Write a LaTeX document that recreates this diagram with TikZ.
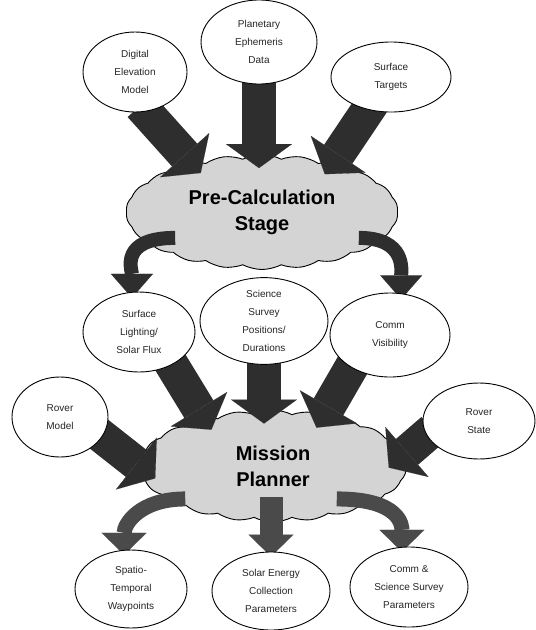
\documentclass[tikz,border=0pt]{standalone}
\usepackage{fontspec}
\setmainfont{Liberation Sans}
\usetikzlibrary{arrows.meta,positioning,shapes.geometric,shapes.symbols}
\definecolor{arrowdark}{HTML}{2E2E2E}
\definecolor{arrowmid}{HTML}{4A4A4A}
\definecolor{cloudfill}{HTML}{D4D4D4}
\pgfdeclarelayer{bg}
\pgfdeclarelayer{mid}
\pgfsetlayers{bg,mid,main}

\begin{document}
\begin{tikzpicture}[
    x=1pt,y=1pt,
    ell/.style={ellipse,draw,fill=white,line width=0.9pt,inner sep=0pt,align=center,
      font=\fontsize{10}{18}\selectfont,text=black!85},
    blob/.style={cloud,cloud puffs=22,cloud puff arc=55,cloud ignores aspect,draw,
      line width=0.9pt,fill=cloudfill,inner sep=0pt,align=center,
      font=\fontsize{20}{26}\selectfont\bfseries},
    fat/.style={draw=arrowdark,line width=34pt,-{Triangle[width=66pt,length=24pt,line width=0.1pt]}},
    thin/.style={draw=arrowdark,line width=14pt,-{Triangle[width=42pt,length=24pt,line width=0.1pt]}},
    low/.style={draw=arrowmid,line width=15pt,-{Triangle[width=45pt,length=22pt,line width=0.1pt]}}
  ]
  \useasboundingbox (0,0) rectangle (536,-630);

  % input data
  \node[ell,minimum width=104pt,minimum height=80pt] (dem) at (135,-72) {Digital\\Elevation\\Model};
  \node[ell,minimum width=116pt,minimum height=84pt] (ephem) at (259,-42) {Planetary\\Ephemeris\\Data};
  \node[ell,minimum width=120pt,minimum height=70pt] (targets) at (391,-77) {Surface\\Targets};

  \begin{pgfonlayer}{bg}
    \node[blob,minimum width=272pt,minimum height=115pt] (precalc) at (262,-212) {Pre-Calculation\\Stage};
    \node[blob,minimum width=267pt,minimum height=112pt] (planner) at (273,-466) {Mission\\Planner};
  \end{pgfonlayer}

  % intermediate products
  \node[ell,minimum width=112pt,minimum height=80pt] (flux) at (139,-332) {Surface\\Lighting/\\Solar Flux};
  \node[ell,minimum width=128pt,minimum height=84pt] (survey) at (264,-321) {Science\\Survey\\Positions/\\Durations};
  \node[ell,minimum width=120pt,minimum height=84pt] (comm) at (390,-335) {Comm\\Visibility};
  \node[ell,minimum width=96pt,minimum height=80pt] (rovermodel) at (60,-417) {Rover\\Model};
  \node[ell,minimum width=112pt,minimum height=76pt] (roverstate) at (479,-421) {Rover\\State};

  % outputs
  \node[ell,minimum width=112pt,minimum height=78pt] (waypoints) at (131,-589) {Spatio-\\Temporal\\Waypoints};
  \node[ell,minimum width=118pt,minimum height=78pt] (solar) at (271,-591) {Solar Energy\\Collection\\Parameters};
  \node[ell,minimum width=118pt,minimum height=80pt] (params) at (409,-587) {Comm \&\\Science Survey\\Parameters};

  \begin{pgfonlayer}{mid}
    \draw[fat,shorten <=-8pt,shorten >=-14pt] (dem.-75) -- (precalc.145);
    \draw[fat,shorten <=-8pt,shorten >=-14pt] (ephem) -- (ephem |- precalc.north);
    \draw[fat,shorten <=-8pt,shorten >=-14pt] (targets.-125) -- (precalc.35);
    \draw[thin,shorten <=-35pt,shorten >=-6pt] (precalc.192) to[out=180,in=90] (flux.100);
    \draw[thin,shorten <=-25pt,shorten >=-6pt] (precalc.-12) to[out=0,in=90] (comm.75);

    \draw[fat,shorten <=-8pt,shorten >=-14pt] (flux.-45) -- (planner.145);
    \draw[fat,shorten <=-8pt,shorten >=-14pt] (survey) -- (survey |- planner.north);
    \draw[fat,shorten <=-8pt,shorten >=-14pt] (comm.-140) -- (planner.45);
    \draw[fat,shorten <=-8pt,shorten >=-20pt] (rovermodel.-25) -- (planner.180);
    \draw[fat,shorten <=-8pt,shorten >=-20pt] (roverstate.195) -- (planner.5);

    \draw[low,shorten <=-20pt,shorten >=-5pt] (planner.197) to[out=180,in=90] (waypoints.100);
    \draw[low,line width=23pt,shorten <=-25pt,shorten >=-5pt] (planner.south -| solar) -- (solar);
    \draw[low,shorten <=-44pt,shorten >=-5pt] (planner.-17) to[out=0,in=90] (params.100);
  \end{pgfonlayer}
\end{tikzpicture}
\end{document}
